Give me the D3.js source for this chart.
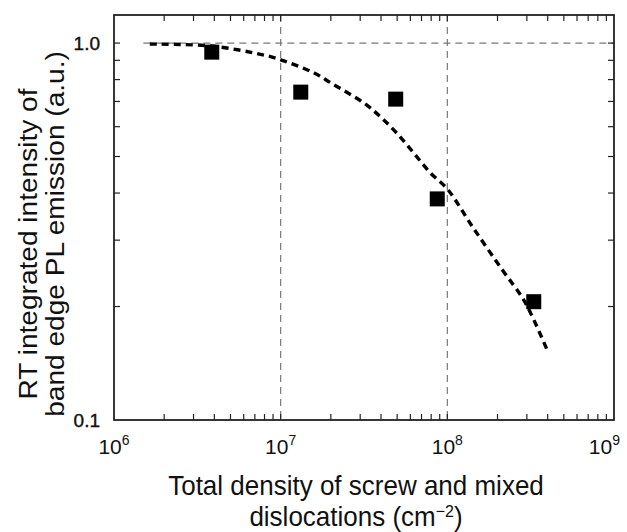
<!DOCTYPE html>
<html>
<head>
<meta charset="utf-8">
<script src="https://cdn.jsdelivr.net/npm/d3@7"></script>
<style>
    body { margin: 0; background: #fff; }
    svg { font-family: 'Liberation Sans', Arial, sans-serif; }
</style>
</head>
<body>
<div id="chart"></div>
<script>
// Measured points
const densities = [3.86e6, 1.32e7, 4.9e7, 8.7e7, 3.3e8];
const intensities = [0.946, 0.741, 0.71, 0.386, 0.206];

// Dashed fit curve
const fitDensities = [1.64e6, 3.86e6, 7.96e6, 1.0e7, 1.59e7, 2.01e7, 3.16e7, 3.99e7, 4.97e7, 6.28e7, 7.93e7, 1.0e8, 1.42e8, 2.14e8, 2.8e8, 3.2e8, 3.98e8];
const fitIntensities = [0.994, 0.982, 0.929, 0.903, 0.833, 0.783, 0.693, 0.636, 0.577, 0.511, 0.452, 0.41, 0.325, 0.25, 0.212, 0.19, 0.153];

// Tick labels
const xMajor = [1e6, 1e7, 1e8, 1e9];
const xExponents = ['6', '7', '8', '9'];
const yMajor = [0.1, 1.0];
const yLabels = ['0.1', '1.0'];

const width = 627, height = 532;
const margin = { top: 15, right: 13, bottom: 112, left: 114 };
const innerW = width - margin.left - margin.right;
const innerH = height - margin.top - margin.bottom;

const svg = d3.select('#chart')
    .append('svg')
    .attr('width', width)
    .attr('height', height);

const chart = svg.append('g')
    .attr('transform', `translate(${margin.left},${margin.top})`);

const x = d3.scaleLog()
    .domain([1e6, 1e9])
    .range([0, innerW]);

const y = d3.scaleLog()
    .domain([0.1, 1.187])
    .range([innerH, 0]);

// Minor tick values
const xMinor = [];
[1e6, 1e7, 1e8].forEach(d => {
    for (let k = 2; k <= 9; k++) xMinor.push(d * k);
});
const yMinor = [];
for (let k = 2; k <= 9; k++) yMinor.push(k / 10);

// Grid lines
const grid = chart.append('g')
    .attr('stroke', '#777')
    .attr('stroke-width', 1.2)
    .attr('stroke-dasharray', '7,5');

grid.selectAll('.vgrid')
    .data([1e7, 1e8])
    .join('line')
    .attr('x1', d => x(d))
    .attr('x2', d => x(d))
    .attr('y1', 0)
    .attr('y2', innerH);

grid.append('line')
    .attr('x1', x(1.5e6))
    .attr('x2', innerW)
    .attr('y1', y(1))
    .attr('y2', y(1));

// Inward ticks on all four sides
const tickLen = 6;
const ticks = chart.append('g')
    .attr('stroke', '#222')
    .attr('stroke-width', 1.2);

const xAll = xMinor.concat([1e7, 1e8]);
ticks.selectAll('.xb')
    .data(xAll)
    .join('line')
    .attr('x1', d => x(d)).attr('x2', d => x(d))
    .attr('y1', innerH).attr('y2', innerH - tickLen);
ticks.selectAll('.xt')
    .data(xAll)
    .join('line')
    .attr('class', 'xt')
    .attr('x1', d => x(d)).attr('x2', d => x(d))
    .attr('y1', 0).attr('y2', tickLen);

const yAll = yMinor.concat([1.0]);
ticks.selectAll('.yl')
    .data(yAll)
    .join('line')
    .attr('class', 'yl')
    .attr('x1', 0).attr('x2', tickLen)
    .attr('y1', d => y(d)).attr('y2', d => y(d));
ticks.selectAll('.yr')
    .data(yAll)
    .join('line')
    .attr('class', 'yr')
    .attr('x1', innerW).attr('x2', innerW - tickLen)
    .attr('y1', d => y(d)).attr('y2', d => y(d));

// Frame
chart.append('rect')
    .attr('width', innerW)
    .attr('height', innerH)
    .attr('fill', 'none')
    .attr('stroke', '#222')
    .attr('stroke-width', 1.8);

// Fit curve
const line = d3.line()
    .x((d, i) => x(fitDensities[i]))
    .y(d => y(d))
    .curve(d3.curveCatmullRom);

chart.append('path')
    .datum(fitIntensities)
    .attr('d', line)
    .attr('fill', 'none')
    .attr('stroke', '#000')
    .attr('stroke-width', 3.4)
    .attr('stroke-dasharray', '7,5');

// Square markers
const size = 15;
chart.append('g')
    .selectAll('rect')
    .data(intensities)
    .join('rect')
    .attr('x', (d, i) => x(densities[i]) - size / 2)
    .attr('y', d => y(d) - size / 2)
    .attr('width', size)
    .attr('height', size)
    .attr('fill', '#000');

// X tick labels with superscript exponents (last one kept inside the page)
const xTickText = chart.append('g')
    .attr('font-size', 21)
    .attr('fill', '#111')
    .selectAll('text')
    .data(xMajor)
    .join('text')
    .attr('x', (d, i) => i === xMajor.length - 1 ? innerW + 6 : x(d))
    .attr('y', innerH + 34)
    .attr('text-anchor', (d, i) => i === xMajor.length - 1 ? 'end' : 'middle');
xTickText.append('tspan').text('10');
xTickText.append('tspan')
    .attr('font-size', 14)
    .attr('dy', -9)
    .text((d, i) => xExponents[i]);

// Y tick labels
chart.append('g')
    .attr('font-size', 19)
    .attr('fill', '#111')
    .attr('stroke', '#111')
    .attr('stroke-width', 0.4)
    .selectAll('text')
    .data(yMajor)
    .join('text')
    .attr('x', -14)
    .attr('y', d => y(d) + 7)
    .attr('text-anchor', 'end')
    .text((d, i) => yLabels[i]);

// X axis title
svg.append('text')
    .attr('font-size', 26)
    .attr('fill', '#111')
    .attr('text-anchor', 'middle')
    .attr('transform', 'translate(356,495) scale(1,1.04)')
    .text('Total density of screw and mixed');
const xLine2 = svg.append('text')
    .attr('font-size', 26)
    .attr('fill', '#111')
    .attr('text-anchor', 'middle')
    .attr('transform', 'translate(356,526) scale(1,1.04)');
xLine2.append('tspan').text('dislocations (cm');
xLine2.append('tspan').attr('font-size', 16).attr('dy', -9).text('\u22122');
xLine2.append('tspan').attr('dy', 9).text(')');

// Y axis title, two lines
svg.append('text')
    .attr('font-size', 26)
    .attr('fill', '#111')
    .attr('text-anchor', 'middle')
    .attr('transform', 'translate(37,244) rotate(-90) scale(1.08,1)')
    .text('RT integrated intensity of');
svg.append('text')
    .attr('font-size', 26)
    .attr('fill', '#111')
    .attr('text-anchor', 'middle')
    .attr('transform', 'translate(64,234) rotate(-90) scale(1.08,1)')
    .text('band edge PL emission (a.u.)');
</script>
</body>
</html>
